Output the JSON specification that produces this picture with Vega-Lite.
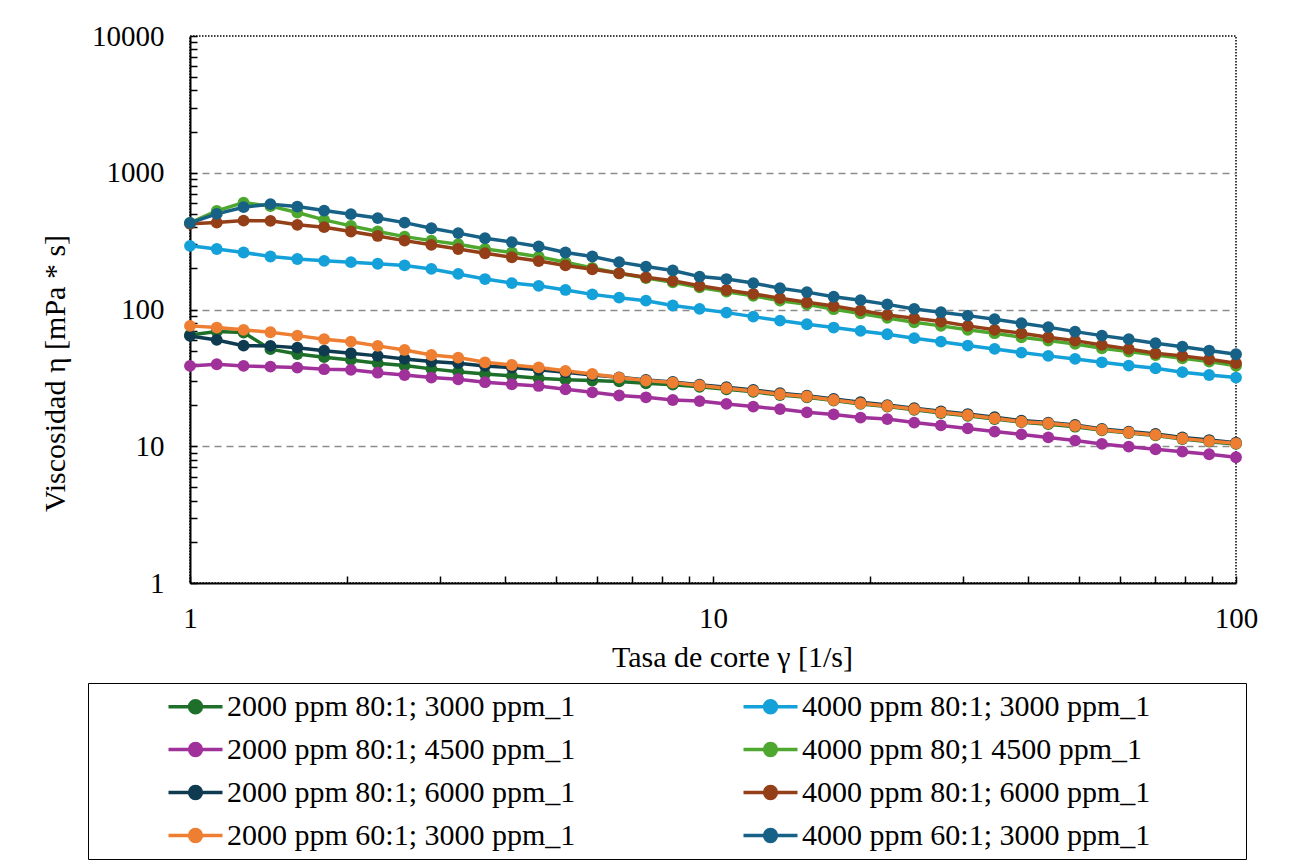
{
  "$schema": "https://vega.github.io/schema/vega-lite/v6.json",
  "width": 1046,
  "height": 547,
  "autosize": {"type": "none"},
  "padding": {"left": 190, "top": 36, "right": 57, "bottom": 282},
  "background": "white",
  "config": {
    "font": "'Liberation Serif', 'DejaVu Serif', 'Times New Roman', Times, serif",
    "view": {"stroke": "black", "strokeDash": [1.5, 1.5], "strokeWidth": 1.5},
    "axis": {"labelColor": "black", "titleColor": "black", "labelFont": "'Liberation Serif', 'DejaVu Serif', 'Times New Roman', Times, serif", "titleFont": "'Liberation Serif', 'DejaVu Serif', 'Times New Roman', Times, serif", "titleFontWeight": "normal"},
    "legend": {"labelFont": "'Liberation Serif', 'DejaVu Serif', 'Times New Roman', Times, serif", "titleFont": "'Liberation Serif', 'DejaVu Serif', 'Times New Roman', Times, serif"}
  },
  "data": {
    "values": [
      {"x": 1, "2000 ppm 80:1; 3000 ppm_1": 65.2, "4000 ppm 80:1; 3000 ppm_1": 292, "2000 ppm 80:1; 4500 ppm_1": 38.7, "4000 ppm 80;1 4500 ppm_1": 430, "2000 ppm 80:1; 6000 ppm_1": 64.1, "4000 ppm 80:1; 6000 ppm_1": 423, "2000 ppm 60:1; 3000 ppm_1": 75.9, "4000 ppm 60:1; 3000 ppm_1": 430},
      {"x": 1.125, "2000 ppm 80:1; 3000 ppm_1": 68.9, "4000 ppm 80:1; 3000 ppm_1": 277, "2000 ppm 80:1; 4500 ppm_1": 39.8, "4000 ppm 80;1 4500 ppm_1": 526, "2000 ppm 80:1; 6000 ppm_1": 59.9, "4000 ppm 80:1; 6000 ppm_1": 432, "2000 ppm 60:1; 3000 ppm_1": 73.8, "4000 ppm 60:1; 3000 ppm_1": 500},
      {"x": 1.266, "2000 ppm 80:1; 3000 ppm_1": 67.8, "4000 ppm 80:1; 3000 ppm_1": 261, "2000 ppm 80:1; 4500 ppm_1": 38.7, "4000 ppm 80;1 4500 ppm_1": 605, "2000 ppm 80:1; 6000 ppm_1": 54.4, "4000 ppm 80:1; 6000 ppm_1": 447, "2000 ppm 60:1; 3000 ppm_1": 71.0, "4000 ppm 60:1; 3000 ppm_1": 560},
      {"x": 1.425, "2000 ppm 80:1; 3000 ppm_1": 51.3, "4000 ppm 80:1; 3000 ppm_1": 244, "2000 ppm 80:1; 4500 ppm_1": 38.2, "4000 ppm 80;1 4500 ppm_1": 570, "2000 ppm 80:1; 6000 ppm_1": 54.2, "4000 ppm 80:1; 6000 ppm_1": 445, "2000 ppm 60:1; 3000 ppm_1": 68.2, "4000 ppm 60:1; 3000 ppm_1": 589},
      {"x": 1.604, "2000 ppm 80:1; 3000 ppm_1": 47.3, "4000 ppm 80:1; 3000 ppm_1": 234, "2000 ppm 80:1; 4500 ppm_1": 37.6, "4000 ppm 80;1 4500 ppm_1": 512, "2000 ppm 80:1; 6000 ppm_1": 52.6, "4000 ppm 80:1; 6000 ppm_1": 416, "2000 ppm 60:1; 3000 ppm_1": 64.4, "4000 ppm 60:1; 3000 ppm_1": 566},
      {"x": 1.805, "2000 ppm 80:1; 3000 ppm_1": 44.8, "4000 ppm 80:1; 3000 ppm_1": 227, "2000 ppm 80:1; 4500 ppm_1": 36.6, "4000 ppm 80;1 4500 ppm_1": 452, "2000 ppm 80:1; 6000 ppm_1": 50.0, "4000 ppm 80:1; 6000 ppm_1": 400, "2000 ppm 60:1; 3000 ppm_1": 60.7, "4000 ppm 60:1; 3000 ppm_1": 529},
      {"x": 2.031, "2000 ppm 80:1; 3000 ppm_1": 42.8, "4000 ppm 80:1; 3000 ppm_1": 222, "2000 ppm 80:1; 4500 ppm_1": 36.2, "4000 ppm 80;1 4500 ppm_1": 409, "2000 ppm 80:1; 6000 ppm_1": 47.9, "4000 ppm 80:1; 6000 ppm_1": 372, "2000 ppm 60:1; 3000 ppm_1": 58.2, "4000 ppm 60:1; 3000 ppm_1": 498},
      {"x": 2.285, "2000 ppm 80:1; 3000 ppm_1": 40.5, "4000 ppm 80:1; 3000 ppm_1": 216, "2000 ppm 80:1; 4500 ppm_1": 34.5, "4000 ppm 80;1 4500 ppm_1": 372, "2000 ppm 80:1; 6000 ppm_1": 45.8, "4000 ppm 80:1; 6000 ppm_1": 345, "2000 ppm 60:1; 3000 ppm_1": 54.2, "4000 ppm 60:1; 3000 ppm_1": 466},
      {"x": 2.572, "2000 ppm 80:1; 3000 ppm_1": 38.9, "4000 ppm 80:1; 3000 ppm_1": 210, "2000 ppm 80:1; 4500 ppm_1": 33.2, "4000 ppm 80;1 4500 ppm_1": 341, "2000 ppm 80:1; 6000 ppm_1": 43.5, "4000 ppm 80:1; 6000 ppm_1": 319, "2000 ppm 60:1; 3000 ppm_1": 50.6, "4000 ppm 60:1; 3000 ppm_1": 432},
      {"x": 2.894, "2000 ppm 80:1; 3000 ppm_1": 36.8, "4000 ppm 80:1; 3000 ppm_1": 198, "2000 ppm 80:1; 4500 ppm_1": 31.8, "4000 ppm 80;1 4500 ppm_1": 319, "2000 ppm 80:1; 6000 ppm_1": 41.6, "4000 ppm 80:1; 6000 ppm_1": 297, "2000 ppm 60:1; 3000 ppm_1": 46.5, "4000 ppm 60:1; 3000 ppm_1": 393},
      {"x": 3.257, "2000 ppm 80:1; 3000 ppm_1": 35.1, "4000 ppm 80:1; 3000 ppm_1": 182, "2000 ppm 80:1; 4500 ppm_1": 30.9, "4000 ppm 80;1 4500 ppm_1": 300, "2000 ppm 80:1; 6000 ppm_1": 40.5, "4000 ppm 80:1; 6000 ppm_1": 277, "2000 ppm 60:1; 3000 ppm_1": 44.5, "4000 ppm 60:1; 3000 ppm_1": 362},
      {"x": 3.665, "2000 ppm 80:1; 3000 ppm_1": 33.8, "4000 ppm 80:1; 3000 ppm_1": 167, "2000 ppm 80:1; 4500 ppm_1": 29.4, "4000 ppm 80;1 4500 ppm_1": 277, "2000 ppm 80:1; 6000 ppm_1": 38.7, "4000 ppm 80:1; 6000 ppm_1": 258, "2000 ppm 60:1; 3000 ppm_1": 41.1, "4000 ppm 60:1; 3000 ppm_1": 332},
      {"x": 4.125, "2000 ppm 80:1; 3000 ppm_1": 32.7, "4000 ppm 80:1; 3000 ppm_1": 156, "2000 ppm 80:1; 4500 ppm_1": 28.4, "4000 ppm 80;1 4500 ppm_1": 261, "2000 ppm 80:1; 6000 ppm_1": 37.6, "4000 ppm 80:1; 6000 ppm_1": 241, "2000 ppm 60:1; 3000 ppm_1": 39.3, "4000 ppm 60:1; 3000 ppm_1": 311},
      {"x": 4.642, "2000 ppm 80:1; 3000 ppm_1": 31.4, "4000 ppm 80:1; 3000 ppm_1": 149, "2000 ppm 80:1; 4500 ppm_1": 27.6, "4000 ppm 80;1 4500 ppm_1": 243, "2000 ppm 80:1; 6000 ppm_1": 36.2, "4000 ppm 80:1; 6000 ppm_1": 226, "2000 ppm 60:1; 3000 ppm_1": 37.7, "4000 ppm 60:1; 3000 ppm_1": 289},
      {"x": 5.223, "2000 ppm 80:1; 3000 ppm_1": 30.7, "4000 ppm 80:1; 3000 ppm_1": 139, "2000 ppm 80:1; 4500 ppm_1": 26.1, "4000 ppm 80;1 4500 ppm_1": 222, "2000 ppm 80:1; 6000 ppm_1": 34.7, "4000 ppm 80:1; 6000 ppm_1": 210, "2000 ppm 60:1; 3000 ppm_1": 35.6, "4000 ppm 60:1; 3000 ppm_1": 261},
      {"x": 5.878, "2000 ppm 80:1; 3000 ppm_1": 30.2, "4000 ppm 80:1; 3000 ppm_1": 129, "2000 ppm 80:1; 4500 ppm_1": 24.8, "4000 ppm 80;1 4500 ppm_1": 201, "2000 ppm 80:1; 6000 ppm_1": 33.2, "4000 ppm 80:1; 6000 ppm_1": 197, "2000 ppm 60:1; 3000 ppm_1": 33.8, "4000 ppm 60:1; 3000 ppm_1": 244},
      {"x": 6.615, "2000 ppm 80:1; 3000 ppm_1": 29.8, "4000 ppm 80:1; 3000 ppm_1": 122, "2000 ppm 80:1; 4500 ppm_1": 23.5, "4000 ppm 80;1 4500 ppm_1": 184, "2000 ppm 80:1; 6000 ppm_1": 31.9, "4000 ppm 80:1; 6000 ppm_1": 184, "2000 ppm 60:1; 3000 ppm_1": 31.8, "4000 ppm 60:1; 3000 ppm_1": 222},
      {"x": 7.444, "2000 ppm 80:1; 3000 ppm_1": 28.9, "4000 ppm 80:1; 3000 ppm_1": 116, "2000 ppm 80:1; 4500 ppm_1": 22.8, "4000 ppm 80;1 4500 ppm_1": 170, "2000 ppm 80:1; 6000 ppm_1": 30.5, "4000 ppm 80:1; 6000 ppm_1": 172, "2000 ppm 60:1; 3000 ppm_1": 30.2, "4000 ppm 60:1; 3000 ppm_1": 206},
      {"x": 8.377, "2000 ppm 80:1; 3000 ppm_1": 28.2, "4000 ppm 80:1; 3000 ppm_1": 107, "2000 ppm 80:1; 4500 ppm_1": 21.8, "4000 ppm 80;1 4500 ppm_1": 158, "2000 ppm 80:1; 6000 ppm_1": 29.5, "4000 ppm 80:1; 6000 ppm_1": 162, "2000 ppm 60:1; 3000 ppm_1": 29.2, "4000 ppm 60:1; 3000 ppm_1": 193},
      {"x": 9.427, "2000 ppm 80:1; 3000 ppm_1": 27.2, "4000 ppm 80:1; 3000 ppm_1": 101, "2000 ppm 80:1; 4500 ppm_1": 21.4, "4000 ppm 80;1 4500 ppm_1": 145, "2000 ppm 80:1; 6000 ppm_1": 28.2, "4000 ppm 80:1; 6000 ppm_1": 149, "2000 ppm 60:1; 3000 ppm_1": 27.8, "4000 ppm 60:1; 3000 ppm_1": 174},
      {"x": 10.61, "2000 ppm 80:1; 3000 ppm_1": 26.1, "4000 ppm 80:1; 3000 ppm_1": 94.9, "2000 ppm 80:1; 4500 ppm_1": 20.4, "4000 ppm 80;1 4500 ppm_1": 135, "2000 ppm 80:1; 6000 ppm_1": 27.0, "4000 ppm 80:1; 6000 ppm_1": 139, "2000 ppm 60:1; 3000 ppm_1": 26.6, "4000 ppm 60:1; 3000 ppm_1": 167},
      {"x": 11.94, "2000 ppm 80:1; 3000 ppm_1": 25.0, "4000 ppm 80:1; 3000 ppm_1": 88.7, "2000 ppm 80:1; 4500 ppm_1": 19.5, "4000 ppm 80;1 4500 ppm_1": 126, "2000 ppm 80:1; 6000 ppm_1": 25.8, "4000 ppm 80:1; 6000 ppm_1": 130, "2000 ppm 60:1; 3000 ppm_1": 25.4, "4000 ppm 60:1; 3000 ppm_1": 156},
      {"x": 13.43, "2000 ppm 80:1; 3000 ppm_1": 23.7, "4000 ppm 80:1; 3000 ppm_1": 83.0, "2000 ppm 80:1; 4500 ppm_1": 18.7, "4000 ppm 80;1 4500 ppm_1": 116, "2000 ppm 80:1; 6000 ppm_1": 24.4, "4000 ppm 80:1; 6000 ppm_1": 121, "2000 ppm 60:1; 3000 ppm_1": 24.0, "4000 ppm 60:1; 3000 ppm_1": 143},
      {"x": 15.12, "2000 ppm 80:1; 3000 ppm_1": 22.8, "4000 ppm 80:1; 3000 ppm_1": 78.0, "2000 ppm 80:1; 4500 ppm_1": 17.7, "4000 ppm 80;1 4500 ppm_1": 109, "2000 ppm 80:1; 6000 ppm_1": 23.4, "4000 ppm 80:1; 6000 ppm_1": 113, "2000 ppm 60:1; 3000 ppm_1": 23.1, "4000 ppm 60:1; 3000 ppm_1": 134},
      {"x": 17.01, "2000 ppm 80:1; 3000 ppm_1": 21.6, "4000 ppm 80:1; 3000 ppm_1": 73.8, "2000 ppm 80:1; 4500 ppm_1": 17.1, "4000 ppm 80;1 4500 ppm_1": 100.5, "2000 ppm 80:1; 6000 ppm_1": 22.2, "4000 ppm 80:1; 6000 ppm_1": 106, "2000 ppm 60:1; 3000 ppm_1": 21.8, "4000 ppm 60:1; 3000 ppm_1": 124},
      {"x": 19.15, "2000 ppm 80:1; 3000 ppm_1": 20.4, "4000 ppm 80:1; 3000 ppm_1": 69.7, "2000 ppm 80:1; 4500 ppm_1": 16.2, "4000 ppm 80;1 4500 ppm_1": 93.6, "2000 ppm 80:1; 6000 ppm_1": 21.0, "4000 ppm 80:1; 6000 ppm_1": 98.5, "2000 ppm 60:1; 3000 ppm_1": 20.6, "4000 ppm 60:1; 3000 ppm_1": 117},
      {"x": 21.54, "2000 ppm 80:1; 3000 ppm_1": 19.5, "4000 ppm 80:1; 3000 ppm_1": 65.9, "2000 ppm 80:1; 4500 ppm_1": 15.8, "4000 ppm 80;1 4500 ppm_1": 86.8, "2000 ppm 80:1; 6000 ppm_1": 20.0, "4000 ppm 80:1; 6000 ppm_1": 91.3, "2000 ppm 60:1; 3000 ppm_1": 19.7, "4000 ppm 60:1; 3000 ppm_1": 109},
      {"x": 24.25, "2000 ppm 80:1; 3000 ppm_1": 18.5, "4000 ppm 80:1; 3000 ppm_1": 61.7, "2000 ppm 80:1; 4500 ppm_1": 14.9, "4000 ppm 80;1 4500 ppm_1": 80.7, "2000 ppm 80:1; 6000 ppm_1": 19.0, "4000 ppm 80:1; 6000 ppm_1": 86.3, "2000 ppm 60:1; 3000 ppm_1": 18.7, "4000 ppm 60:1; 3000 ppm_1": 101},
      {"x": 27.28, "2000 ppm 80:1; 3000 ppm_1": 17.5, "4000 ppm 80:1; 3000 ppm_1": 58.2, "2000 ppm 80:1; 4500 ppm_1": 14.2, "4000 ppm 80;1 4500 ppm_1": 75.9, "2000 ppm 80:1; 6000 ppm_1": 18.0, "4000 ppm 80:1; 6000 ppm_1": 81.6, "2000 ppm 60:1; 3000 ppm_1": 17.7, "4000 ppm 60:1; 3000 ppm_1": 95.5},
      {"x": 30.70, "2000 ppm 80:1; 3000 ppm_1": 16.7, "4000 ppm 80:1; 3000 ppm_1": 54.5, "2000 ppm 80:1; 4500 ppm_1": 13.5, "4000 ppm 80;1 4500 ppm_1": 71.0, "2000 ppm 80:1; 6000 ppm_1": 17.2, "4000 ppm 80:1; 6000 ppm_1": 75.9, "2000 ppm 60:1; 3000 ppm_1": 16.9, "4000 ppm 60:1; 3000 ppm_1": 90.2},
      {"x": 34.55, "2000 ppm 80:1; 3000 ppm_1": 15.8, "4000 ppm 80:1; 3000 ppm_1": 51.5, "2000 ppm 80:1; 4500 ppm_1": 12.8, "4000 ppm 80;1 4500 ppm_1": 67.1, "2000 ppm 80:1; 6000 ppm_1": 16.3, "4000 ppm 80:1; 6000 ppm_1": 71.0, "2000 ppm 60:1; 3000 ppm_1": 16.0, "4000 ppm 60:1; 3000 ppm_1": 84.9},
      {"x": 38.88, "2000 ppm 80:1; 3000 ppm_1": 15.0, "4000 ppm 80:1; 3000 ppm_1": 48.4, "2000 ppm 80:1; 4500 ppm_1": 12.2, "4000 ppm 80;1 4500 ppm_1": 62.7, "2000 ppm 80:1; 6000 ppm_1": 15.4, "4000 ppm 80:1; 6000 ppm_1": 67.1, "2000 ppm 60:1; 3000 ppm_1": 15.1, "4000 ppm 60:1; 3000 ppm_1": 79.4},
      {"x": 43.76, "2000 ppm 80:1; 3000 ppm_1": 14.5, "4000 ppm 80:1; 3000 ppm_1": 45.8, "2000 ppm 80:1; 4500 ppm_1": 11.6, "4000 ppm 80;1 4500 ppm_1": 59.2, "2000 ppm 80:1; 6000 ppm_1": 14.9, "4000 ppm 80:1; 6000 ppm_1": 62.7, "2000 ppm 60:1; 3000 ppm_1": 14.7, "4000 ppm 60:1; 3000 ppm_1": 74.3},
      {"x": 49.24, "2000 ppm 80:1; 3000 ppm_1": 13.9, "4000 ppm 80:1; 3000 ppm_1": 43.5, "2000 ppm 80:1; 4500 ppm_1": 11.0, "4000 ppm 80;1 4500 ppm_1": 56.0, "2000 ppm 80:1; 6000 ppm_1": 14.3, "4000 ppm 80:1; 6000 ppm_1": 59.2, "2000 ppm 60:1; 3000 ppm_1": 14.1, "4000 ppm 60:1; 3000 ppm_1": 68.9},
      {"x": 55.41, "2000 ppm 80:1; 3000 ppm_1": 13.1, "4000 ppm 80:1; 3000 ppm_1": 41.1, "2000 ppm 80:1; 4500 ppm_1": 10.4, "4000 ppm 80;1 4500 ppm_1": 52.1, "2000 ppm 80:1; 6000 ppm_1": 13.4, "4000 ppm 80:1; 6000 ppm_1": 55.1, "2000 ppm 60:1; 3000 ppm_1": 13.2, "4000 ppm 60:1; 3000 ppm_1": 64.4},
      {"x": 62.36, "2000 ppm 80:1; 3000 ppm_1": 12.5, "4000 ppm 80:1; 3000 ppm_1": 38.9, "2000 ppm 80:1; 4500 ppm_1": 9.93, "4000 ppm 80;1 4500 ppm_1": 49.2, "2000 ppm 80:1; 6000 ppm_1": 12.8, "4000 ppm 80:1; 6000 ppm_1": 51.5, "2000 ppm 60:1; 3000 ppm_1": 12.6, "4000 ppm 60:1; 3000 ppm_1": 60.7},
      {"x": 70.17, "2000 ppm 80:1; 3000 ppm_1": 12.0, "4000 ppm 80:1; 3000 ppm_1": 37.2, "2000 ppm 80:1; 4500 ppm_1": 9.51, "4000 ppm 80;1 4500 ppm_1": 46.5, "2000 ppm 80:1; 6000 ppm_1": 12.3, "4000 ppm 80:1; 6000 ppm_1": 47.9, "2000 ppm 60:1; 3000 ppm_1": 12.1, "4000 ppm 60:1; 3000 ppm_1": 56.7},
      {"x": 78.97, "2000 ppm 80:1; 3000 ppm_1": 11.3, "4000 ppm 80:1; 3000 ppm_1": 34.8, "2000 ppm 80:1; 4500 ppm_1": 9.13, "4000 ppm 80;1 4500 ppm_1": 44.0, "2000 ppm 80:1; 6000 ppm_1": 11.6, "4000 ppm 80:1; 6000 ppm_1": 45.8, "2000 ppm 60:1; 3000 ppm_1": 11.4, "4000 ppm 60:1; 3000 ppm_1": 53.5},
      {"x": 88.86, "2000 ppm 80:1; 3000 ppm_1": 10.8, "4000 ppm 80:1; 3000 ppm_1": 33.2, "2000 ppm 80:1; 4500 ppm_1": 8.74, "4000 ppm 80;1 4500 ppm_1": 41.6, "2000 ppm 80:1; 6000 ppm_1": 11.1, "4000 ppm 80:1; 6000 ppm_1": 43.3, "2000 ppm 60:1; 3000 ppm_1": 10.9, "4000 ppm 60:1; 3000 ppm_1": 50.1},
      {"x": 100, "2000 ppm 80:1; 3000 ppm_1": 10.4, "4000 ppm 80:1; 3000 ppm_1": 31.8, "2000 ppm 80:1; 4500 ppm_1": 8.31, "4000 ppm 80;1 4500 ppm_1": 38.7, "2000 ppm 80:1; 6000 ppm_1": 10.6, "4000 ppm 80:1; 6000 ppm_1": 40.5, "2000 ppm 60:1; 3000 ppm_1": 10.5, "4000 ppm 60:1; 3000 ppm_1": 47.1}
    ]
  },
  "transform": [
    {"fold": ["2000 ppm 80:1; 3000 ppm_1", "4000 ppm 80:1; 3000 ppm_1", "2000 ppm 80:1; 4500 ppm_1", "4000 ppm 80;1 4500 ppm_1", "2000 ppm 80:1; 6000 ppm_1", "4000 ppm 80:1; 6000 ppm_1", "2000 ppm 60:1; 3000 ppm_1", "4000 ppm 60:1; 3000 ppm_1"], "as": ["series", "visc"]}
  ],
  "encoding": {
    "x": {
      "field": "x", "type": "quantitative",
      "scale": {"type": "log", "domain": [1, 100], "nice": false},
      "axis": {
        "values": [1, 2, 3, 4, 5, 6, 7, 8, 9, 10, 20, 30, 40, 50, 60, 70, 80, 90, 100],
        "labelExpr": "(datum.value == 1 || datum.value == 10 || datum.value == 100) ? format(datum.value, 'd') : ''",
        "labelOverlap": false, "labelFlush": false, "labelBound": false,
        "labelFontSize": 29, "labelPadding": 28,
        "tickSize": -7, "tickColor": "black", "tickWidth": 1.5,
        "domainColor": "black", "domainWidth": 2,
        "grid": false,
        "title": "Tasa de corte γ [1/s]", "titleFontSize": 30,
        "titleX": 542, "titleY": 74, "titleBaseline": "middle", "titleAlign": "center"
      }
    },
    "y": {
      "field": "visc", "type": "quantitative",
      "scale": {"type": "log", "domain": [1, 10000], "nice": false},
      "axis": {
        "values": [1, 2, 3, 4, 5, 6, 7, 8, 9, 10, 20, 30, 40, 50, 60, 70, 80, 90, 100, 200, 300, 400, 500, 600, 700, 800, 900, 1000, 2000, 3000, 4000, 5000, 6000, 7000, 8000, 9000, 10000],
        "labelExpr": "(datum.value == 1 || datum.value == 10 || datum.value == 100 || datum.value == 1000 || datum.value == 10000) ? format(datum.value, 'd') : ''",
        "labelOverlap": false, "labelBound": false,
        "labelFontSize": 29, "labelPadding": 33,
        "tickSize": -7, "tickColor": "black", "tickWidth": 1.5,
        "domainColor": "black", "domainWidth": 2,
        "grid": true,
        "gridColor": "#8c8c8c", "gridDash": [7, 5], "gridWidth": 1.5,
        "gridOpacity": {"condition": {"test": "datum.value == 10 || datum.value == 100 || datum.value == 1000", "value": 1}, "value": 0},
        "title": "Viscosidad η [mPa * s]", "titleFontSize": 30,
        "titleX": -135, "titleY": 337, "titleBaseline": "middle", "titleAlign": "center", "titleAngle": -90
      }
    },
    "color": {
      "field": "series", "type": "nominal",
      "scale": {
        "domain": ["2000 ppm 80:1; 3000 ppm_1", "4000 ppm 80:1; 3000 ppm_1", "2000 ppm 80:1; 4500 ppm_1", "4000 ppm 80;1 4500 ppm_1", "2000 ppm 80:1; 6000 ppm_1", "4000 ppm 80:1; 6000 ppm_1", "2000 ppm 60:1; 3000 ppm_1", "4000 ppm 60:1; 3000 ppm_1"],
        "range": ["#1E6F2A", "#14A1D9", "#A0319A", "#4EA72E", "#0F3B50", "#943F17", "#EE7F32", "#186186"]
      },
      "legend": {
        "orient": "none", "legendX": -102, "legendY": 647,
        "direction": "horizontal",
        "columns": 2, "title": " ", "titleOrient": "right", "titlePadding": 88, "titleFontSize": 30,
        "symbolType": "M-2,0H2M-0.44,0A0.44,0.44,0,1,0,0.44,0A0.44,0.44,0,1,0,-0.44,0Z",
        "symbolSize": 729, "symbolStrokeWidth": 3.5, "symbolOpacity": 1,
        "symbolOffset": 84, "labelOffset": 16,
        "labelFontSize": 30, "labelColor": "black", "labelLimit": 0,
        "columnPadding": 95, "rowPadding": 12,
        "padding": 8,
        "strokeColor": "black", "fillColor": "white",
        "encode": {"symbols": {"update": {"fill": {"field": "value", "scale": "color"}, "stroke": {"field": "value", "scale": "color"}, "strokeWidth": {"value": 3.5}}}}
      }
    }
  },
  "layer": [
    {"mark": {"type": "line", "strokeWidth": 3.5}},
    {"mark": {"type": "point", "filled": true, "size": 140, "opacity": 1}}
  ]
}
